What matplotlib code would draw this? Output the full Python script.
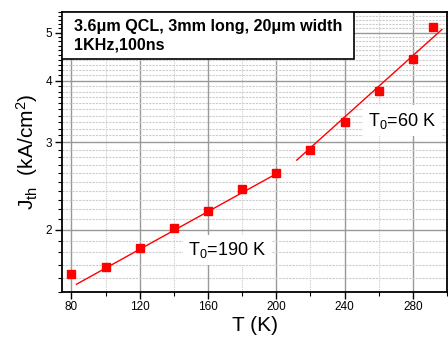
import matplotlib
matplotlib.use("Agg")
import matplotlib.pyplot as plt
from matplotlib.ticker import FixedLocator, NullFormatter, FormatStrFormatter, MultipleLocator
from matplotlib.patches import Rectangle
import numpy as np

plt.rcParams['font.family'] = ['Liberation Sans', 'DejaVu Sans']
plt.rcParams['mathtext.fontset'] = 'custom'
plt.rcParams['mathtext.rm'] = 'Liberation Sans'
plt.rcParams['mathtext.it'] = 'Liberation Sans'

# data
T = [80, 100, 120, 140, 160, 180, 200, 220, 240, 260, 280, 292]
J = [1.63, 1.68, 1.835, 2.02, 2.18, 2.415, 2.60, 2.90, 3.30, 3.81, 4.43, 5.13]
fit1_T = [83, 201]
fit1_J = [1.553, 2.605]
fit2_T = [212, 297]
fit2_J = [2.764, 5.07]
y_major = [2, 3, 4, 5]
x_major = [80, 120, 160, 200, 240, 280]

fig = plt.figure(figsize=(4.48, 3.41), dpi=100)
ax = fig.add_axes([62/448, 1-291.7/341, (447-62)/448, (291.7-12)/341])
ax.set_yscale('log')
ax.set_xlim(74.5, 300)
ax.set_ylim(1.5, 5.5)

# grid
ax.xaxis.set_major_locator(FixedLocator(x_major))
ax.xaxis.set_minor_locator(MultipleLocator(20))
ax.yaxis.set_major_locator(FixedLocator(y_major))
minors = [v/10 for v in range(15, 56) if v % 10 != 0]
ax.yaxis.set_minor_locator(FixedLocator(minors))
ax.yaxis.set_major_formatter(FormatStrFormatter('%d'))
ax.yaxis.set_minor_formatter(NullFormatter())

ax.grid(which='major', color='#999999', lw=1.0, ls='-', zorder=0)
ax.grid(which='minor', axis='y', color='#cccccc', lw=0.8, ls=(0, (2, 1)), zorder=0)
ax.grid(which='minor', axis='x', color='#cccccc', lw=0.8, ls=(0, (1, 1)), zorder=0)
ax.set_axisbelow(True)

ax.plot(T, J, 's', color='red', ms=6, mec='red', zorder=3)
ax.plot(fit1_T, fit1_J, '-', color='red', lw=1, zorder=3)
ax.plot(fit2_T, fit2_J, '-', color='red', lw=1, zorder=3)

for s in ax.spines.values():
    s.set_linewidth(1.3)
ax.tick_params(which='major', direction='out', length=5, width=1, labelsize=8.5, pad=2)
ax.tick_params(which='minor', direction='out', length=3, width=0.8)
ax.tick_params(axis='y', which='both', right=True)

ax.set_xlabel('T (K)', fontsize=15, labelpad=2)
ax.set_ylabel(r'J$_{\mathrm{th}}$  (kA/cm$^{\mathrm{2}}$)', fontsize=15, labelpad=4)

# legend-like box
box = Rectangle((0, 0.833), 0.758, 0.167, transform=ax.transAxes,
                fc='white', ec='black', lw=1.2, zorder=5)
ax.add_patch(box)
ax.text(0.031, 0.915, '3.6\u03bcm QCL, 3mm long, 20\u03bcm width\n1KHz,100ns',
        transform=ax.transAxes, ha='left', va='center', fontsize=11.6, fontweight='bold',
        linespacing=1.3, zorder=6)

ax.text(148.5, 1.82, r'T$_{\mathrm{0}}$=190 K', fontsize=13, ha='left', va='center',
        bbox=dict(boxstyle='square,pad=0.3', fc='white', ec='none'), zorder=4)
ax.text(254, 3.32, r'T$_{\mathrm{0}}$=60 K', fontsize=13, ha='left', va='center',
        bbox=dict(boxstyle='square,pad=0.3', fc='white', ec='none'), zorder=4)

fig.savefig('out.png', dpi=100)
